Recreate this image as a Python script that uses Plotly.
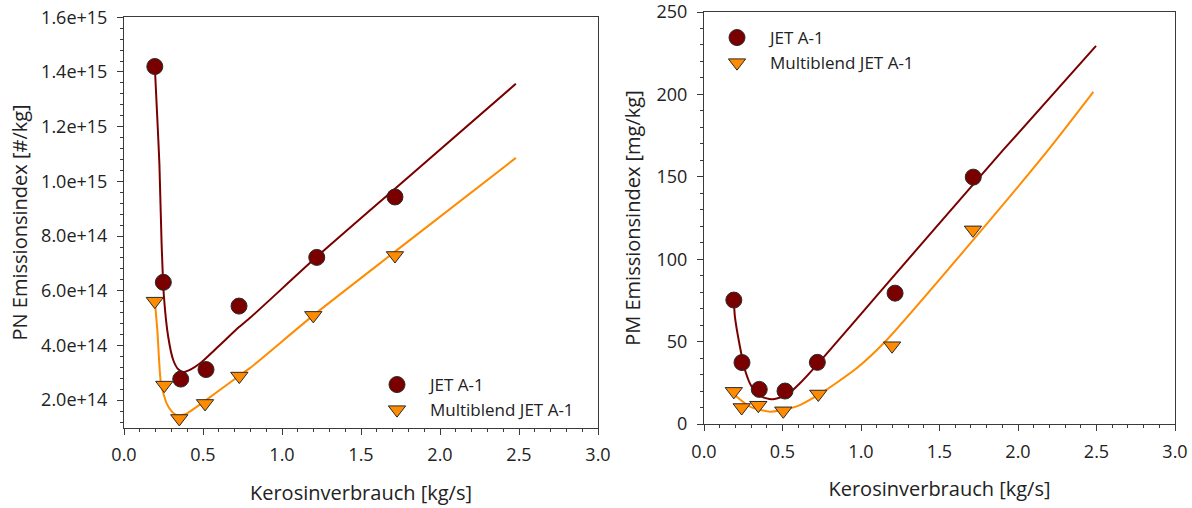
import plotly.graph_objects as go

# ---------------- data ----------------
# Left: PN emission index [#/kg]
pn_jet_x = [0.195, 0.249, 0.359, 0.519, 0.728, 1.220, 1.715]
pn_jet_y = [1.42e15, 6.31e14, 2.77e14, 3.12e14, 5.44e14, 7.22e14, 9.43e14]
pn_mb_x = [0.195, 0.255, 0.350, 0.513, 0.730, 1.198, 1.715]
pn_mb_y = [5.62e14, 2.55e14, 1.33e14, 1.88e14, 2.88e14, 5.10e14, 7.29e14]

# fitted trend curves
pn_jet_fit_x = [0.195, 0.210, 0.224, 0.238, 0.253, 0.280, 0.312, 0.345, 0.375, 0.420, 0.480, 0.600, 0.730, 0.800, 1.220, 1.715, 2.480]
pn_jet_fit_y = [1.42e15, 1.24e15, 1.065e15, 7.73e14, 5.77e14, 4.31e14, 3.46e14, 3.12e14, 3.03e14, 3.12e14, 3.34e14, 3.98e14, 4.68e14, 5.02e14, 7.24e14, 9.73e14, 1.357e15]
pn_mb_fit_x = [0.195, 0.211, 0.234, 0.270, 0.300, 0.333, 0.365, 0.397, 0.502, 0.734, 0.797, 1.198, 1.715, 2.480]
pn_mb_fit_y = [5.65e14, 4.56e14, 2.61e14, 1.88e14, 1.60e14, 1.45e14, 1.46e14, 1.51e14, 1.93e14, 2.91e14, 3.17e14, 5.10e14, 7.43e14, 1.086e15]

# Right: PM emission index [mg/kg]
pm_jet_x = [0.190, 0.242, 0.352, 0.516, 0.722, 1.217, 1.715]
pm_jet_y = [75.2, 37.3, 21.0, 20.0, 37.4, 79.4, 149.8]
pm_mb_x = [0.190, 0.240, 0.346, 0.505, 0.728, 1.198, 1.713]
pm_mb_y = [19.8, 10.0, 11.4, 8.0, 18.2, 47.5, 117.8]

pm_jet_fit_x = [0.190, 0.197, 0.229, 0.261, 0.304, 0.357, 0.431, 0.527, 0.611, 0.728, 1.142, 1.715, 1.906, 2.497]
pm_jet_fit_y = [75.0, 65.0, 46.9, 32.8, 22.6, 17.0, 15.0, 17.6, 24.7, 36.8, 82.5, 145.4, 166.3, 229.4]
pm_mb_fit_x = [0.195, 0.293, 0.420, 0.548, 0.611, 0.760, 0.972, 1.164, 1.715, 2.193, 2.480]
pm_mb_fit_y = [17.6, 10.5, 7.5, 9.5, 11.5, 19.6, 33.8, 51.0, 111.7, 166.3, 201.5]

pn_ticks = [2e14, 4e14, 6e14, 8e14, 1.0e15, 1.2e15, 1.4e15, 1.6e15]
pm_ticks = [0, 50, 100, 150, 200, 250]
x_ticks = [0.0, 0.5, 1.0, 1.5, 2.0, 2.5, 3.0]

names = ["JET A-1", "Multiblend JET A-1"]

# ---------------- styling ----------------
DARKRED = "#7a0000"
ORANGE = "#ff8c00"
FONT = "Open Sans"
TXT = "#222222"
AX = "#3a3a3a"

fig = go.Figure()

# trend lines
fig.add_trace(go.Scatter(x=pn_jet_fit_x, y=pn_jet_fit_y, mode="lines",
                         line=dict(color=DARKRED, width=2, shape="spline", smoothing=0.6),
                         showlegend=False, hoverinfo="skip", xaxis="x", yaxis="y"))
fig.add_trace(go.Scatter(x=pn_mb_fit_x, y=pn_mb_fit_y, mode="lines",
                         line=dict(color=ORANGE, width=2, shape="spline", smoothing=0.6),
                         showlegend=False, hoverinfo="skip", xaxis="x", yaxis="y"))
fig.add_trace(go.Scatter(x=pm_jet_fit_x, y=pm_jet_fit_y, mode="lines",
                         line=dict(color=DARKRED, width=2, shape="spline", smoothing=0.6),
                         showlegend=False, hoverinfo="skip", xaxis="x2", yaxis="y2"))
fig.add_trace(go.Scatter(x=pm_mb_fit_x, y=pm_mb_fit_y, mode="lines",
                         line=dict(color=ORANGE, width=2, shape="spline", smoothing=0.6),
                         showlegend=False, hoverinfo="skip", xaxis="x2", yaxis="y2"))

circ = dict(symbol="circle", size=16, color=DARKRED, line=dict(color="#2a2a2a", width=1))
tri = dict(symbol="triangle-down", size=15, color=ORANGE, line=dict(color="#2a2a2a", width=1))

fig.add_trace(go.Scatter(x=pn_jet_x, y=pn_jet_y, mode="markers", marker=circ, name=names[0],
                         xaxis="x", yaxis="y", legend="legend"))
fig.add_trace(go.Scatter(x=pn_mb_x, y=pn_mb_y, mode="markers", marker=tri, name=names[1],
                         xaxis="x", yaxis="y", legend="legend"))
fig.add_trace(go.Scatter(x=pm_jet_x, y=pm_jet_y, mode="markers", marker=circ, name=names[0],
                         xaxis="x2", yaxis="y2", legend="legend2"))
fig.add_trace(go.Scatter(x=pm_mb_x, y=pm_mb_y, mode="markers", marker=tri, name=names[1],
                         xaxis="x2", yaxis="y2", legend="legend2"))

W, H = 1192, 508

def px_x(p):
    return p / W

def px_y(p):
    return (H - p) / H

common_axis = dict(showline=True, linecolor=AX, linewidth=1, mirror=True,
                   ticks="outside", ticklen=6, tickcolor=AX, tickwidth=1,
                   showgrid=False, zeroline=False, automargin=False,
                   ticklabeloverflow="allow",
                   tickfont=dict(family=FONT, size=18, color=TXT))

xaxis_common = dict(common_axis, range=[0, 3], tickvals=x_ticks, tickformat=".1f",
                    minor=dict(dtick=0.1, tick0=0, ticks="outside", ticklen=3, tickcolor=AX),
                    ticklabelstandoff=5)

TITLE_FONT = dict(size=20, family=FONT, color=TXT)

fig.update_layout(
    width=W, height=H,
    margin=dict(l=0, r=0, t=0, b=0),
    paper_bgcolor="white", plot_bgcolor="white",
    font=dict(family=FONT, size=18, color=TXT),
    xaxis=dict(xaxis_common, domain=[px_x(124), px_x(598)], anchor="y",
               title=dict(text="Kerosinverbrauch [kg/s]", font=TITLE_FONT, standoff=20)),
    yaxis=dict(common_axis, domain=[px_y(427.5), px_y(17.3)], anchor="x",
               range=[1e14, 1.6e15], tickvals=pn_ticks, tickformat=".1e",
               minor=dict(dtick=4e13, tick0=0, ticks="outside", ticklen=3, tickcolor=AX),
               ticklabelstandoff=6,
               title=dict(text="PN Emissionsindex [#/kg]", font=TITLE_FONT, standoff=8)),
    xaxis2=dict(xaxis_common, domain=[px_x(704), px_x(1175)], anchor="y2",
                title=dict(text="Kerosinverbrauch [kg/s]", font=TITLE_FONT, standoff=20)),
    yaxis2=dict(common_axis, domain=[px_y(424), px_y(12)], anchor="x2",
                range=[0, 250], tickvals=pm_ticks,
                minor=dict(dtick=10, tick0=0, ticks="outside", ticklen=3, tickcolor=AX),
                ticklabelstandoff=6,
                title=dict(text="PM Emissionsindex [mg/kg]", font=TITLE_FONT, standoff=10)),
    legend=dict(x=px_x(364), y=px_y(367), xanchor="left", yanchor="top",
                bgcolor="rgba(0,0,0,0)", itemwidth=56, tracegroupgap=0,
                font=dict(family=FONT, size=17, color=TXT)),
    legend2=dict(x=px_x(704), y=px_y(20), xanchor="left", yanchor="top",
                 bgcolor="rgba(0,0,0,0)", itemwidth=56, tracegroupgap=0,
                 font=dict(family=FONT, size=17, color=TXT)),
)

fig.write_html("out.html")
